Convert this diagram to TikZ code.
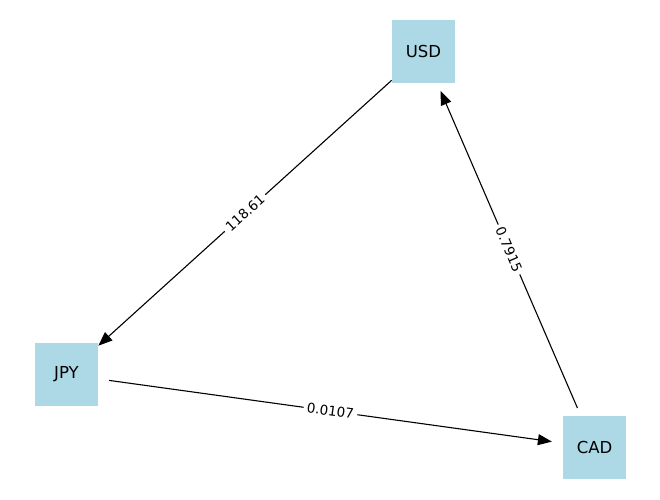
\documentclass[tikz,border=0pt]{standalone}
\usepackage{fontspec}
\setmainfont{DejaVu Sans}
\usetikzlibrary{arrows.meta}
\definecolor{nodeblue}{HTML}{ADD8E6}
\tikzset{
  cur/.style={fill=nodeblue, minimum width=63pt, minimum height=63pt, inner sep=0pt, font=\fontsize{16.5}{18}\selectfont},
  rate/.style={-{Triangle[length=14pt,width=11pt]}, line width=1.1pt, shorten >=43pt, shorten <=43pt},
  lbl/.style={fill=white, inner xsep=3.5pt, inner ysep=1.5pt, sloped, midway, font=\fontsize{13.5}{15}\selectfont}
}
\begin{document}
\begin{tikzpicture}[x=1pt,y=-1pt]
\useasboundingbox (0,0) rectangle (660,499);
\node[cur] (usd) at (423.5,51.5) {USD};
\node[cur] (jpy) at (66.5,374.5) {JPY};
\node[cur] (cad) at (594.5,447.5) {CAD};
\draw[rate] (usd.center) -- (jpy.center) node[lbl] {118.61};
\draw[rate] (jpy.center) -- (cad.center) node[lbl] {0.0107};
\draw[rate] (cad.center) -- (usd.center) node[lbl] {0.7915};
\end{tikzpicture}
\end{document}
